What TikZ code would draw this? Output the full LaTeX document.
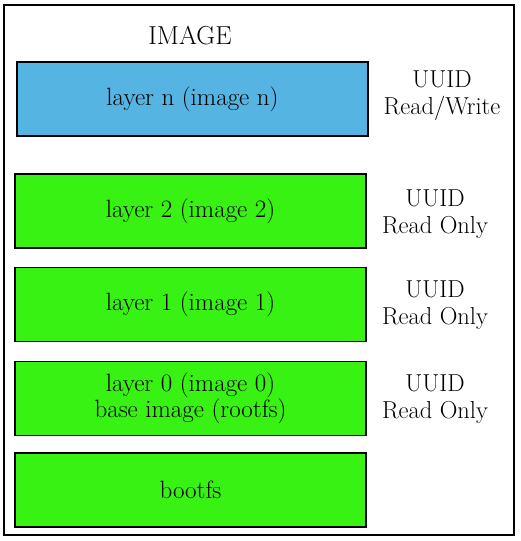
\documentclass[tikz,border=0pt]{standalone}
\usepackage{tikz}
\definecolor{rwblue}{HTML}{56B4E3}
\definecolor{rogreen}{HTML}{38F214}
\tikzset{
  layerbox/.style={draw=black,line width=1.6pt,minimum width=351pt,minimum height=74pt,
    inner sep=0pt,align=center,font=\fontsize{25}{26}\selectfont},
  rolayer/.style={layerbox,fill=rogreen},
  rwlayer/.style={layerbox,fill=rwblue},
  uuidlabel/.style={align=center,inner sep=0pt,font=\fontsize{24.5}{27}\selectfont}
}
\begin{document}
\begin{tikzpicture}[x=1pt,y=-1pt]
      \useasboundingbox (0,0) rectangle (520,541);
      \draw[line width=1.6pt] (4,5) rectangle (514,535);
      \draw
        (190,36) node[font=\fontsize{26}{30}\selectfont] (title){IMAGE}
        (192.5,99) node[rwlayer] (layern){layer n (image n)}
        (190.5,211) node[rolayer] (layer2){layer 2 (image 2)}
        (190.5,304.5) node[rolayer] (layer1){layer 1 (image 1)}
        (190.5,398.5) node[rolayer] (layer0){layer 0 (image 0)\\base image (rootfs)}
        (190.5,490) node[rolayer] (bootfs){bootfs}
        (442,96) node[uuidlabel] (uuidn){UUID\\Read/Write}
        (435,214) node[uuidlabel] (uuid2){UUID\\Read Only}
        (435,305) node[uuidlabel] (uuid1){UUID\\Read Only}
        (435,399) node[uuidlabel] (uuid0){UUID\\Read Only};
    \end{tikzpicture}
\end{document}
